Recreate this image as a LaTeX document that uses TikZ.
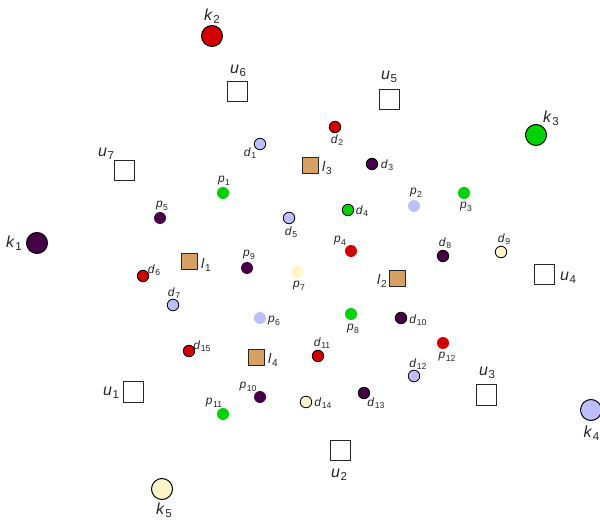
\documentclass[tikz,border=0pt]{standalone}
\usepackage{fontspec}
\setmainfont{Liberation Sans}
\definecolor{cred}{RGB}{210,0,0}
\definecolor{cpur}{RGB}{70,0,70}
\definecolor{cgrn}{RGB}{0,210,0}
\definecolor{cblu}{RGB}{190,190,255}
\definecolor{cyel}{RGB}{255,245,200}
\definecolor{ctan}{RGB}{215,160,100}
\newcommand\lb[2]{\textit{#1}\kern0.04em\raisebox{-0.35ex}{\scalebox{0.72}{#2}}}
\tikzset{
  knode/.style={circle,draw=black,line width=1pt,minimum size=21pt,inner sep=0pt},
  unode/.style={rectangle,draw=black!85,line width=1pt,minimum size=20pt,inner sep=0pt,fill=white},
  lnode/.style={rectangle,draw=black!85,line width=1pt,minimum size=16pt,inner sep=0pt,fill=ctan},
  dnode/.style={circle,draw=black,line width=0.8pt,minimum size=11.5pt,inner sep=0pt},
  pnode/.style={circle,minimum size=12pt,inner sep=0pt},
  biglbl/.style={inner sep=0pt,font=\fontsize{16}{16}\selectfont,text=black!85},
  midlbl/.style={inner sep=0pt,font=\fontsize{14}{14}\selectfont,text=black!85},
  smlbl/.style={inner sep=0pt,font=\fontsize{12}{12}\selectfont,text=black!85}
}
\begin{document}
\begin{tikzpicture}[x=1pt,y=-1pt]
\useasboundingbox (0,0) rectangle (600,521);
% k nodes
\node[knode,fill=cpur] (k1) at (37,243) {};
\node[knode,fill=cred] (k2) at (212,36) {};
\node[knode,fill=cgrn] (k3) at (536,135) {};
\node[knode,fill=cblu] (k4) at (591,410) {};
\node[knode,fill=cyel] (k5) at (162,489) {};
\node[biglbl] (k1l) at (14,243) {\lb{k}{1}};
\node[biglbl] (k2l) at (212,16) {\lb{k}{2}};
\node[biglbl] (k3l) at (551,118) {\lb{k}{3}};
\node[biglbl,anchor=east] (k4l) at (599.5,433) {\lb{k}{4}};
\node[biglbl] (k5l) at (164,510) {\lb{k}{5}};
% u nodes
\node[unode] (u1) at (133,392) {};
\node[unode] (u2) at (340,450) {};
\node[unode] (u3) at (486,395) {};
\node[unode] (u4) at (544,275) {};
\node[unode] (u5) at (389,100) {};
\node[unode] (u6) at (237,92) {};
\node[unode] (u7) at (124,171) {};
\node[biglbl] (u1l) at (111,393) {\lb{u}{1}};
\node[biglbl] (u2l) at (339,475) {\lb{u}{2}};
\node[biglbl] (u3l) at (487,373) {\lb{u}{3}};
\node[biglbl] (u4l) at (568,278) {\lb{u}{4}};
\node[biglbl] (u5l) at (389,77) {\lb{u}{5}};
\node[biglbl] (u6l) at (238,71) {\lb{u}{6}};
\node[biglbl] (u7l) at (106,154) {\lb{u}{7}};
% l nodes
\node[lnode] (l1) at (189,262) {};
\node[lnode] (l2) at (397,279) {};
\node[lnode] (l3) at (310,166) {};
\node[lnode] (l4) at (256,358) {};
\node[midlbl] (l1l) at (206,265) {\lb{l}{1}};
\node[midlbl] (l2l) at (382,281) {\lb{l}{2}};
\node[midlbl] (l3l) at (327,168) {\lb{l}{3}};
\node[midlbl] (l4l) at (273,360) {\lb{l}{4}};
% d nodes
\node[dnode,fill=cblu] (d1) at (260,144) {};
\node[dnode,fill=cred] (d2) at (335,127) {};
\node[dnode,fill=cpur] (d3) at (372,164) {};
\node[dnode,fill=cgrn] (d4) at (348,210) {};
\node[dnode,fill=cblu] (d5) at (289,218) {};
\node[dnode,fill=cred] (d6) at (143,276) {};
\node[dnode,fill=cblu] (d7) at (173,305) {};
\node[dnode,fill=cpur] (d8) at (443,256) {};
\node[dnode,fill=cyel] (d9) at (501,252) {};
\node[dnode,fill=cpur] (d10) at (401,318) {};
\node[dnode,fill=cred] (d11) at (318,356) {};
\node[dnode,fill=cblu] (d12) at (414,376) {};
\node[dnode,fill=cpur] (d13) at (364,393) {};
\node[dnode,fill=cyel] (d14) at (306,402) {};
\node[dnode,fill=cred] (d15) at (189,351) {};
\node[smlbl] (d1l) at (250,153) {\lb{d}{1}};
\node[smlbl] (d2l) at (337,140) {\lb{d}{2}};
\node[smlbl] (d3l) at (387,165) {\lb{d}{3}};
\node[smlbl] (d4l) at (362,211) {\lb{d}{4}};
\node[smlbl] (d5l) at (291,232) {\lb{d}{5}};
\node[smlbl] (d6l) at (154,270) {\lb{d}{6}};
\node[smlbl] (d7l) at (174,293) {\lb{d}{7}};
\node[smlbl] (d8l) at (445,243) {\lb{d}{8}};
\node[smlbl] (d9l) at (504,239) {\lb{d}{9}};
\node[smlbl] (d10l) at (418,320) {\lb{d}{10}};
\node[smlbl] (d11l) at (322,343) {\lb{d}{11}};
\node[smlbl] (d12l) at (418,364) {\lb{d}{12}};
\node[smlbl] (d13l) at (376,403) {\lb{d}{13}};
\node[smlbl] (d14l) at (323,403) {\lb{d}{14}};
\node[smlbl] (d15l) at (202,346) {\lb{d}{15}};
% p nodes
\node[pnode,fill=cgrn] (p1) at (223,193) {};
\node[pnode,fill=cblu] (p2) at (414,206) {};
\node[pnode,fill=cgrn] (p3) at (464,193) {};
\node[pnode,fill=cred] (p4) at (351,251) {};
\node[pnode,fill=cpur] (p5) at (160,218) {};
\node[pnode,fill=cblu] (p6) at (260,318) {};
\node[pnode,fill=cyel] (p7) at (297,272) {};
\node[pnode,fill=cgrn] (p8) at (351,314) {};
\node[pnode,fill=cpur] (p9) at (247,268) {};
\node[pnode,fill=cpur] (p10) at (260,397) {};
\node[pnode,fill=cgrn] (p11) at (223,414) {};
\node[pnode,fill=cred] (p12) at (443,343) {};
\node[smlbl] (p1l) at (224,181) {\lb{p}{1}};
\node[smlbl] (p2l) at (416,193) {\lb{p}{2}};
\node[smlbl] (p3l) at (466,207) {\lb{p}{3}};
\node[smlbl] (p4l) at (340,241) {\lb{p}{4}};
\node[smlbl] (p5l) at (162,206) {\lb{p}{5}};
\node[smlbl] (p6l) at (274,321) {\lb{p}{6}};
\node[smlbl] (p7l) at (299,286) {\lb{p}{7}};
\node[smlbl] (p8l) at (353,329) {\lb{p}{8}};
\node[smlbl] (p9l) at (249,255) {\lb{p}{9}};
\node[smlbl] (p10l) at (248,387) {\lb{p}{10}};
\node[smlbl] (p11l) at (214,403) {\lb{p}{11}};
\node[smlbl] (p12l) at (447,357) {\lb{p}{12}};
\end{tikzpicture}
\end{document}
